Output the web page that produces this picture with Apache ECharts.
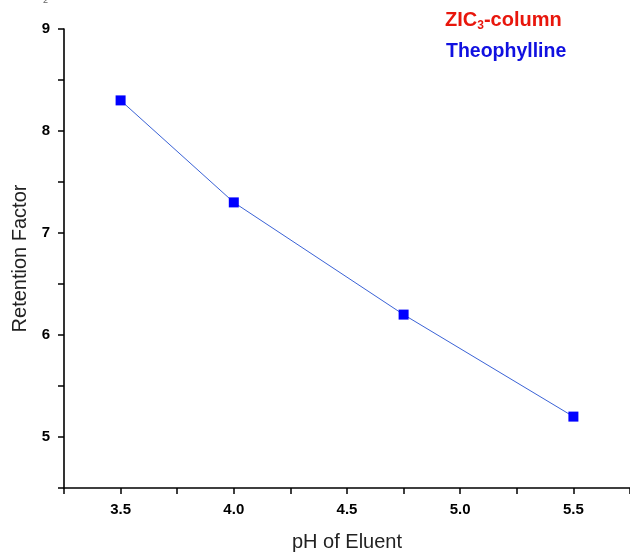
<!DOCTYPE html>
<html><head><meta charset="utf-8">
<script src="https://cdn.jsdelivr.net/npm/echarts@6/dist/echarts.min.js"></script>
<style>html,body{margin:0;padding:0;background:#fff}#c{width:630px;height:554px}</style>
</head><body><div id="c"></div>
<script>
const phValues = [3.5, 4.0, 4.75, 5.5];
const retentionFactor = [8.3, 7.3, 6.2, 5.2];
const seriesName = 'Theophylline';
const xTitle = 'pH of Eluent';
const yTitle = 'Retention Factor';
const columnLabel = ['ZIC', '3', '-column'];

const FONT = 'Arial, "Liberation Sans", sans-serif';
const chart = echarts.init(document.getElementById('c'));
chart.setOption({
  animation: false,
  backgroundColor: '#fff',
  grid: { left: 64, top: 29, right: 0, bottom: 66, containLabel: false, outerBoundsMode: 'none' },
  xAxis: {
    type: 'value', min: 3.25, max: 5.75, interval: 0.25,
    name: xTitle, nameLocation: 'middle', nameGap: 44,
    nameTextStyle: { fontFamily: FONT, fontSize: 20, color: '#222' },
    axisLine: { show: true, lineStyle: { color: '#000', width: 1.6 } },
    axisTick: { show: true, inside: false, length: 6, lineStyle: { color: '#000', width: 1.5 } },
    axisLabel: {
      margin: 14, fontFamily: FONT, fontSize: 15, fontWeight: 'bold', color: '#000',
      formatter: v => (Math.abs(v * 2 - Math.round(v * 2)) < 1e-6 ? v.toFixed(1) : '')
    },
    splitLine: { show: false }
  },
  yAxis: {
    type: 'value', min: 4.5, max: 9, interval: 0.5,
    name: yTitle, nameLocation: 'middle', nameGap: 33,
    nameTextStyle: { fontFamily: FONT, fontSize: 20, color: '#222' },
    axisLine: { show: true, lineStyle: { color: '#000', width: 1.6 } },
    axisTick: { show: true, inside: false, length: 6, lineStyle: { color: '#000', width: 1.5 } },
    axisLabel: {
      margin: 14, fontFamily: FONT, fontSize: 15, fontWeight: 'bold', color: '#000',
      formatter: v => (Math.abs(v - Math.round(v)) < 1e-6 ? String(Math.round(v)) : '')
    },
    splitLine: { show: false }
  },
  series: [{
    name: seriesName, type: 'line',
    data: phValues.map((x, i) => [x, retentionFactor[i]]),
    symbol: 'rect', symbolSize: 10,
    itemStyle: { color: '#0000ff' },
    lineStyle: { color: '#3a62d6', width: 1 }
  }],
  graphic: [
    {
      type: 'text', left: 445, top: 10,
      style: {
        text: '{a|' + columnLabel[0] + '}{s|' + columnLabel[1] + '}{a|' + columnLabel[2] + '}',
        rich: {
          a: { fontFamily: FONT, fontSize: 20, fontWeight: 'bold', fill: '#e8160c' },
          s: { fontFamily: FONT, fontSize: 12, fontWeight: 'bold', fill: '#e8160c', padding: [12, 0, 0, 0] }
        }
      }
    },
    {
      type: 'text', left: 446, top: 42,
      style: { text: seriesName, fontFamily: FONT, fontSize: 19.5, fontWeight: 'bold', fill: '#1010e0' }
    },
    {
      type: 'text', left: 43, top: -4,
      style: { text: '2', fontFamily: FONT, fontSize: 9, fill: '#666' }
    }
  ]
});
</script></body></html>
